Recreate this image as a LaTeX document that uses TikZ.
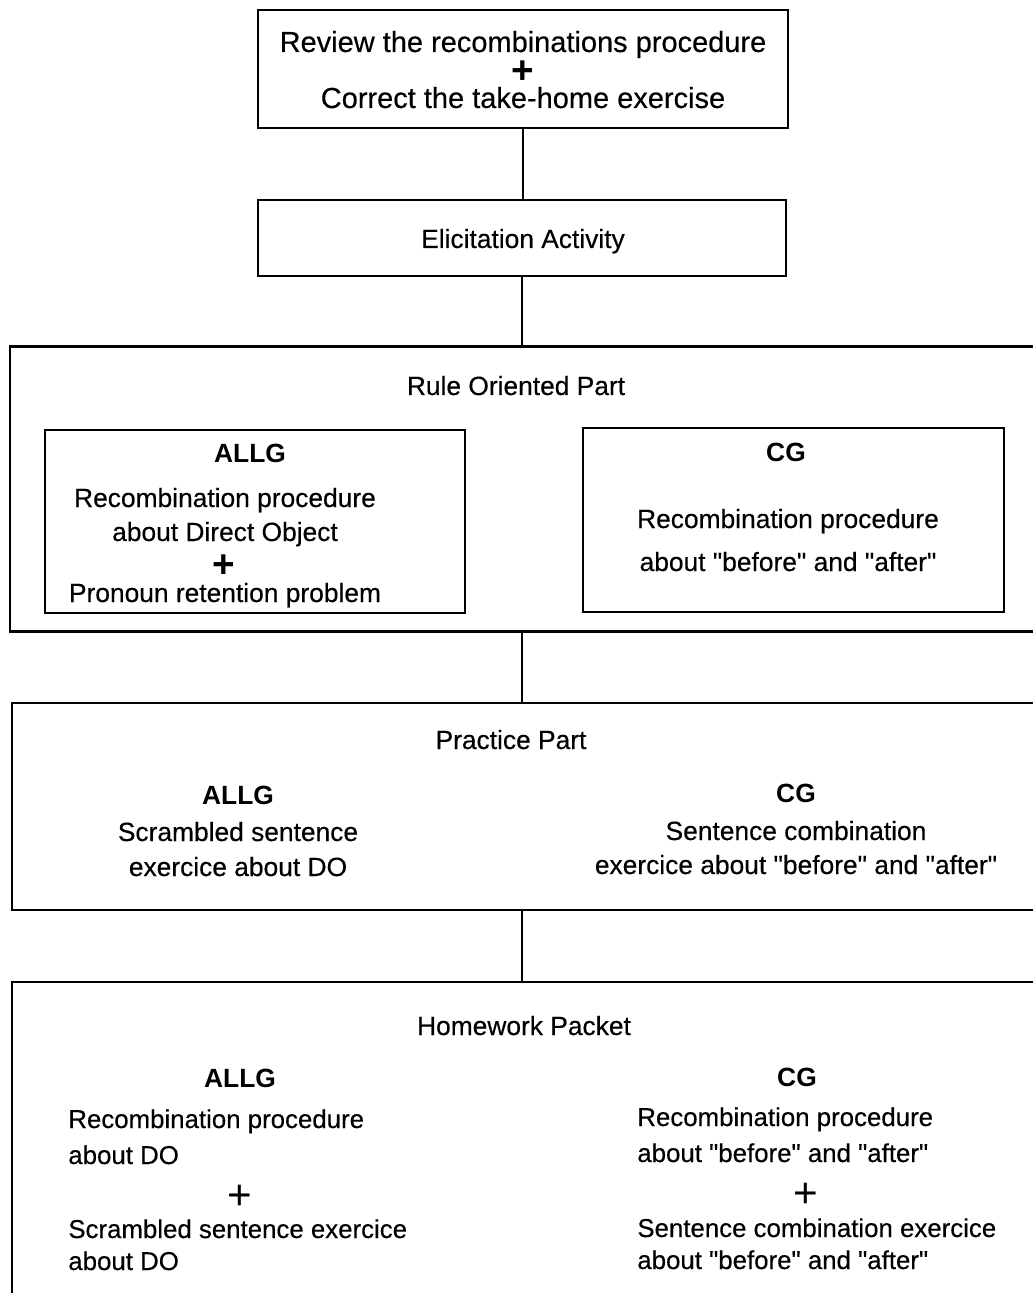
\documentclass[tikz,border=0pt]{standalone}
\usepackage{fontspec}
\setmainfont{Liberation Sans}
\newfontfamily\heavyfont[FakeBold=0.35]{Liberation Sans}
\newcommand\qq{\symbol{34}}
\begin{document}
\begin{tikzpicture}[x=0.02cm,y=-0.02cm,
  box/.style={draw, line width=1.3pt, rectangle, inner sep=0, outer sep=0},
  conn/.style={line width=1.1pt},
  t/.style={inner sep=0, anchor=base, font=\heavyfont\fontsize{15}{18}\selectfont},
  tbig/.style={inner sep=0, anchor=base, font=\heavyfont\fontsize{16.5}{19}\selectfont},
  tl/.style={inner sep=0, anchor=base west, font=\heavyfont\fontsize{14.7}{18}\selectfont},
  tb/.style={inner sep=0, anchor=base, font=\fontsize{15}{18}\selectfont\bfseries},
  bplus/.style={inner sep=0, anchor=center, font=\fontsize{22}{22}\selectfont\bfseries},
  tplus/.style={inner sep=0, anchor=center, font=\fontsize{24}{24}\selectfont}]
\useasboundingbox (0,0) rectangle (1032,1293);

% boxes
\node[box, minimum width=10.6cm, minimum height=2.36cm] (review) at (523,69) {};
\node[box, minimum width=10.56cm, minimum height=1.52cm] (elic) at (522,238) {};
\node[box, minimum width=20.7cm, minimum height=5.7cm] (rule) at (527.5,489) {};
\node[box, minimum width=8.4cm, minimum height=3.66cm] (allgA) at (255,521.5) {};
\node[box, minimum width=8.42cm, minimum height=3.68cm] (cgA) at (793.5,520) {};
\node[box, minimum width=20.66cm, minimum height=4.14cm] (prac) at (528.5,806.5) {};
\node[box, minimum width=20.66cm, minimum height=6.36cm] (hw) at (528.5,1141) {};

% connectors
\draw[conn] (review.south) -- (review.south |- elic.north);
\draw[conn] (elic.south) -- (elic.south |- rule.north);
\draw[conn] (rule.south -| elic.south) -- (prac.north -| elic.south);
\draw[conn] (prac.south -| elic.south) -- (hw.north -| elic.south);

% top box text
\node[tbig] (r1) at (523,52) {Review the recombinations procedure};
\node[bplus] (r2) at (523,72) {+};
\node[tbig] (r3) at (523,108) {Correct the take-home exercise};

\node[t] (e1) at (523,248) {Elicitation Activity};

% rule oriented
\node[t] (ro) at (516,395) {Rule Oriented Part};
\node[tb] (a0) at (250,462) {ALLG};
\node[t] (a1) at (225,507) {Recombination procedure};
\node[t] (a2) at (225,541) {about Direct Object};
\node[bplus] (a3) at (224,566) {+};
\node[t] (a4) at (225,602) {Pronoun retention problem};
\node[tb] (c0) at (786,461) {CG};
\node[t] (c1) at (788,528) {Recombination procedure};
\node[t] (c2) at (788,571) {about \qq before\qq{} and \qq after\qq};

% practice
\node[t] (p0) at (511,749) {Practice Part};
\node[tb] (p1) at (238,804) {ALLG};
\node[t] (p2) at (238,841) {Scrambled sentence};
\node[t] (p3) at (238,876) {exercice about DO};
\node[tb] (p4) at (796,802) {CG};
\node[t] (p5) at (796,840) {Sentence combination};
\node[t] (p6) at (796,874) {exercice about \qq before\qq{} and \qq after\qq};

% homework
\node[t] (h0) at (524,1035) {Homework Packet};
\node[tb] (h1) at (240,1087) {ALLG};
\node[tl] (h2) at (68,1128) {Recombination procedure};
\node[tl] (h3) at (68,1164) {about DO};
\node[tplus] (h4) at (240,1197) {+};
\node[tl] (h5) at (68,1238) {Scrambled sentence exercice};
\node[tl] (h6) at (68,1270) {about DO};
\node[tb] (k1) at (797,1086) {CG};
\node[tl] (k2) at (637,1126) {Recombination procedure};
\node[tl] (k3) at (637,1162) {about \qq before\qq{} and \qq after\qq};
\node[tplus] (k4) at (806,1195) {+};
\node[tl] (k5) at (637,1237) {Sentence combination exercice};
\node[tl] (k6) at (637,1269) {about \qq before\qq{} and \qq after\qq};
\end{tikzpicture}
\end{document}
